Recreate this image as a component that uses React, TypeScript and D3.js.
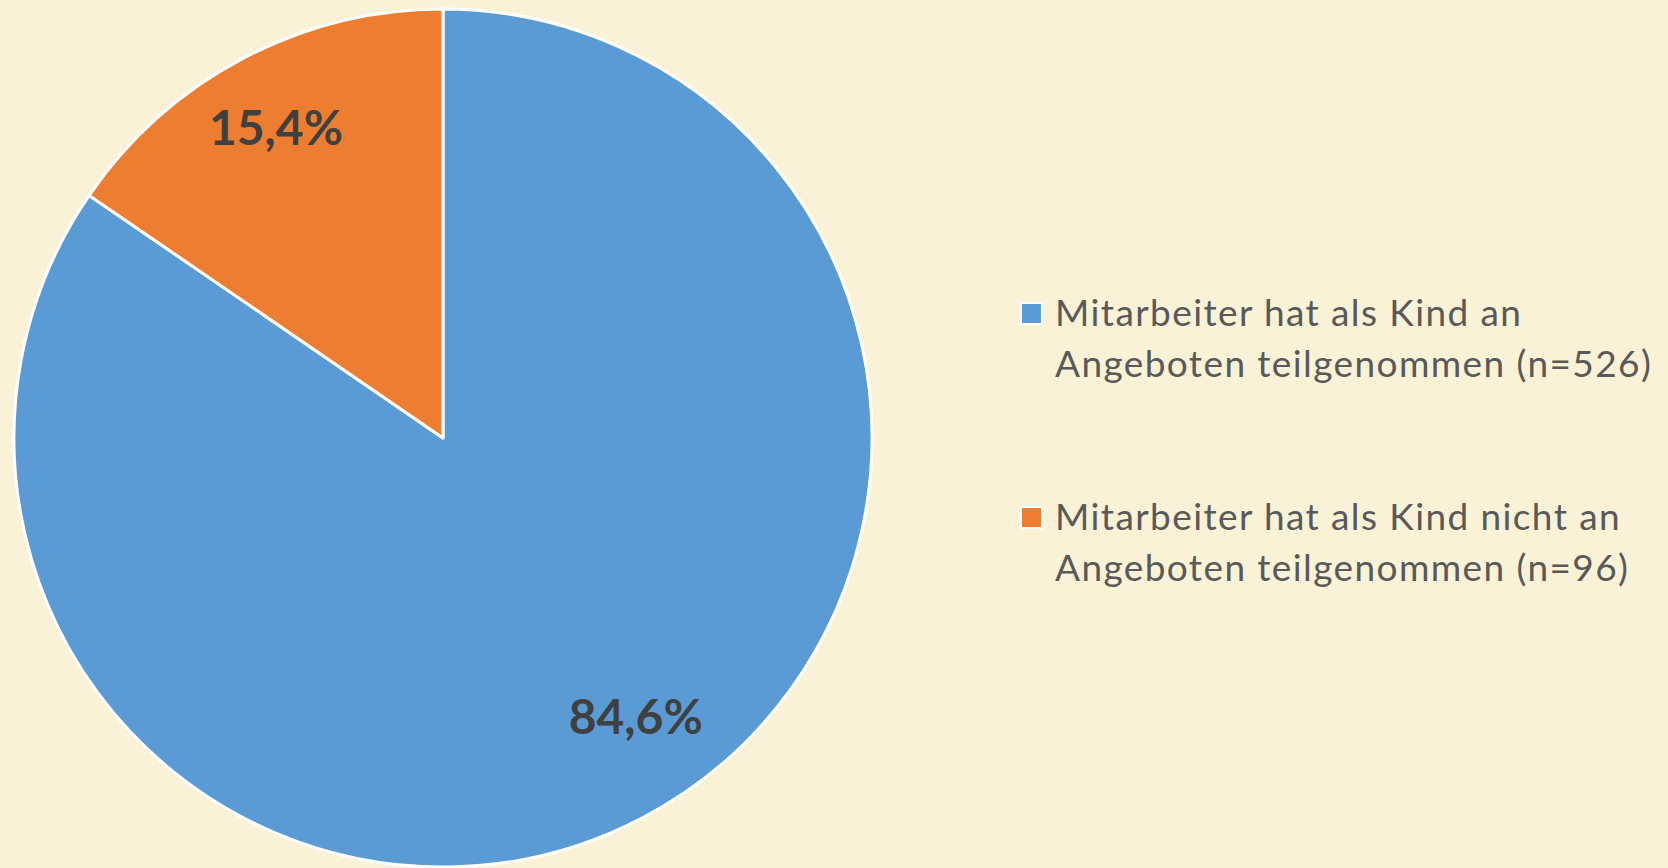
import React, { useRef, useEffect } from 'react';
import * as d3 from 'd3';

// values
const categories = [
  'Mitarbeiter hat als Kind an Angeboten teilgenommen (n=526)',
  'Mitarbeiter hat als Kind nicht an Angeboten teilgenommen (n=96)',
];
const counts = [526, 96];
const legendLines = [
  ['Mitarbeiter hat als Kind an', 'Angeboten teilgenommen (n=526)'],
  ['Mitarbeiter hat als Kind nicht an', 'Angeboten teilgenommen (n=96)'],
];
const colors = ['#5B9BD5', '#ED7D31'];

const App = () => {
  const ref = useRef<SVGSVGElement | null>(null);

  useEffect(() => {
    if (!ref.current) return;
    const svg = d3.select(ref.current);
    svg.selectAll('*').remove();

    const width = 1668;
    const height = 868;
    const cx = 443;
    const cy = 438;
    const r = 429;

    svg.append('rect').attr('width', width).attr('height', height).attr('fill', '#F9F2D6');

    const total = d3.sum(counts);
    const data = counts.map((v, i) => ({ v, i }));
    const pie = d3.pie<{ v: number; i: number }>().sort(null).value(d => d.v);
    const arcs = pie(data);
    const arc = d3.arc<d3.PieArcDatum<{ v: number; i: number }>>().innerRadius(0).outerRadius(r);

    const g = svg.append('g').attr('transform', `translate(${cx},${cy})`);

    g.selectAll('path.slice')
      .data(arcs)
      .enter()
      .append('path')
      .attr('class', 'slice')
      .attr('d', arc)
      .attr('fill', d => colors[d.data.i])
      .attr('stroke', '#ffffff')
      .attr('stroke-width', 3)
      .attr('stroke-linejoin', 'round');

    // data labels (excel "best fit" pulls the big one a bit toward the right)
    const nudge = [-0.12, -0.01];
    const labelRadius = [0.79 * r, 0.82 * r];
    const fmt = (v: number) => d3.format('.1f')((v / total) * 100).replace('.', ',') + '%';
    g.selectAll('text.lbl')
      .data(arcs)
      .enter()
      .append('text')
      .attr('class', 'lbl')
      .attr('transform', d => {
        const a = (d.startAngle + d.endAngle) / 2 + nudge[d.data.i];
        const lr = labelRadius[d.data.i];
        return `translate(${lr * Math.sin(a)},${-lr * Math.cos(a)})`;
      })
      .attr('text-anchor', 'middle')
      .attr('dy', '0.35em')
      .attr('font-family', 'Lato, "Noto Sans", sans-serif')
      .attr('font-weight', 700)
      .attr('font-size', 48)
      .attr('fill', '#404040')
      .text(d => fmt(d.data.v));

    // legend
    const legend = svg.append('g').attr('transform', 'translate(1021,326)');
    const item = legend
      .selectAll('g.item')
      .data(categories)
      .enter()
      .append('g')
      .attr('class', 'item')
      .attr('transform', (_, i) => `translate(0,${i * 204})`);

    item
      .append('rect')
      .attr('x', 0)
      .attr('y', -23)
      .attr('width', 21)
      .attr('height', 21)
      .attr('fill', (_, i) => colors[i])
      .attr('stroke', '#ffffff')
      .attr('stroke-width', 2);

    item
      .append('text')
      .attr('x', 34)
      .attr('font-family', 'Lato, "Noto Sans", sans-serif')
      .attr('font-size', 37)
      .attr('letter-spacing', 1.4)
      .attr('fill', '#595959')
      .selectAll('tspan')
      .data((_, i) => legendLines[i])
      .enter()
      .append('tspan')
      .attr('x', 34)
      .attr('y', (_, j) => j * 51)
      .text(d => d);
  }, []);

  return (
    <div style={{ position: 'absolute', left: 0, top: 0 }}>
      <svg ref={ref} width={1668} height={868} style={{ display: 'block' }} />
    </div>
  );
};

export default App;
